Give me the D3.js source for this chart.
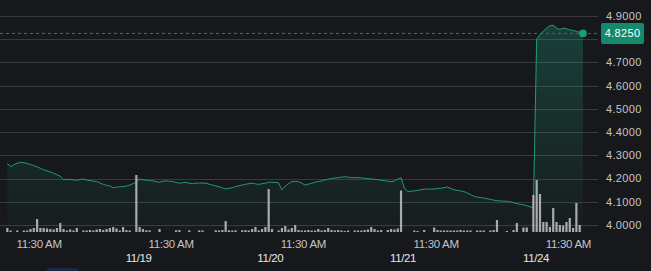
<!DOCTYPE html>
<html>
<head>
<meta charset="utf-8">
<script src="https://cdn.jsdelivr.net/npm/d3@7"></script>
<style>
  html, body { margin: 0; padding: 0; background: #17181c; }
  svg { display: block; }
  text { font-family: "Liberation Sans", Arial, Helvetica, sans-serif; }
</style>
</head>
<body>
<svg id="chart" width="651" height="271"></svg>
<script>
// ---------------- DATA ----------------
// time slots: 40 per trading day; slot 0 = start of first visible day
const priceStartSlot = 1;
const prices = [
  4.266, 4.251, 4.260, 4.266, 4.270, 4.268, 4.265, 4.260, 4.256, 4.250,
  4.244, 4.238, 4.233, 4.228, 4.223, 4.216, 4.210, 4.195, 4.196, 4.197,
  4.194, 4.193, 4.196, 4.198, 4.194, 4.191, 4.189, 4.187, 4.181, 4.175,
  4.171, 4.168, 4.160, 4.163, 4.165, 4.165, 4.168, 4.172, 4.178, 4.186,
  4.198, 4.195, 4.193, 4.191, 4.190, 4.187, 4.184, 4.188, 4.190, 4.188,
  4.187, 4.183, 4.180, 4.182, 4.184, 4.180, 4.178, 4.181, 4.180, 4.181,
  4.180, 4.176, 4.172, 4.168, 4.165, 4.160, 4.155, 4.158, 4.161, 4.165,
  4.169, 4.172, 4.175, 4.178, 4.180, 4.177, 4.175, 4.178, 4.180, 4.184,
  4.184, 4.184, 4.181, 4.151, 4.168, 4.178, 4.187, 4.187, 4.187, 4.180,
  4.172, 4.176, 4.180, 4.184, 4.187, 4.190, 4.194, 4.197, 4.201, 4.202,
  4.204, 4.206, 4.208, 4.206, 4.204, 4.204, 4.204, 4.203, 4.201, 4.200,
  4.198, 4.197, 4.195, 4.193, 4.191, 4.189, 4.186, 4.190, 4.198, 4.204,
  4.158, 4.145, 4.145, 4.147, 4.149, 4.152, 4.154, 4.155, 4.155, 4.155,
  4.157, 4.158, 4.161, 4.164, 4.157, 4.152, 4.149, 4.147, 4.144, 4.138,
  4.131, 4.124, 4.120, 4.118, 4.116, 4.113, 4.110, 4.107, 4.105, 4.103,
  4.103, 4.102, 4.100, 4.096, 4.092, 4.089, 4.087, 4.083, 4.079, 4.071,
  4.800, 4.820, 4.835, 4.848, 4.858, 4.860, 4.848, 4.842, 4.848, 4.845,
  4.840, 4.838, 4.834, 4.830, 4.825
];
const volumeStartSlot = 1;
const volumes = [
  4, 1.5, 0, 1.5, 0, 1.5, 1.5, 3, 4, 13,
  4, 4, 3.5, 3, 2.5, 4, 9, 3, 1.5, 2.5,
  1.5, 4, 0, 1.5, 1.5, 2, 1.5, 2.5, 3, 2,
  3, 4, 5, 3.5, 1.5, 5, 2, 1.5, 0, 57,
  5, 3, 1.7, 1.7, 0, 0, 3, 0, 0, 0,
  0, 1.7, 2, 0, 0, 1.7, 0, 0, 1.7, 1.5,
  0, 0, 0, 1.7, 1.5, 2, 11, 1.7, 1.5, 1.7,
  0, 1.7, 2, 1.5, 3, 5, 1.5, 3, 5, 43,
  3, 0, 1.5, 4, 6, 2.5, 4, 7, 2, 1.5,
  1.5, 2, 1.5, 1.5, 3, 1.5, 2, 4, 2, 1.5,
  2, 1.5, 1, 1.5, 0, 1.5, 1.5, 1.5, 2, 2.5,
  5, 3, 1.5, 2, 0, 2, 3, 2.5, 3.5, 41.5,
  0, 0, 0, 1.5, 1, 0, 2, 0, 0, 4.5,
  2, 1.5, 1.5, 1.5, 1.5, 1.5, 1.5, 2, 1.5, 1.5,
  1.5, 0, 1.5, 1.5, 1.5, 0, 1.5, 2, 12, 0,
  0, 1, 0, 2, 9, 0, 4.5, 4.5, 0, 37,
  52, 38, 10, 10, 5, 24, 10, 7, 6.5, 10,
  14, 4, 29, 7
];
const priceTicks = [4.0, 4.1, 4.2, 4.3, 4.4, 4.5, 4.6, 4.7, 4.8, 4.9];
const timeTickSlots = [10.6, 50.5, 90.5, 130.6, 170.6];
const timeTickLabels = ["11:30 AM", "11:30 AM", "11:30 AM", "11:30 AM", "11:30 AM"];
const dateTickSlots = [40.7, 80.5, 120.6, 160.8];
const dateTickLabels = ["11/19", "11/20", "11/21", "11/24"];
const lastPrice = 4.825;

// ---------------- CHART ----------------
const svg = d3.select("#chart");
const plotRight = 598;

const x = d3.scaleLinear().domain([0, 175]).range([4, 583]);
const y = d3.scaleLinear().domain([4.0, 4.9]).range([225, 16]);
const yVol = d3.scaleLinear().domain([0, 57]).range([232, 175]);

const priceData = prices.map((v, k) => ({ s: priceStartSlot + k, v }));
const volData = volumes.map((v, k) => ({ s: volumeStartSlot + k, v }));

const defs = svg.append("defs");
const grad = defs.append("linearGradient")
  .attr("id", "areaGrad").attr("gradientUnits", "userSpaceOnUse")
  .attr("x1", 0).attr("y1", 16).attr("x2", 0).attr("y2", 232);
grad.append("stop").attr("offset", 0).attr("stop-color", "#1db98f").attr("stop-opacity", 0.26);
grad.append("stop").attr("offset", 1).attr("stop-color", "#1db98f").attr("stop-opacity", 0.02);

// grid
svg.append("g").selectAll("line").data(priceTicks).join("line")
  .attr("x1", 0).attr("x2", plotRight)
  .attr("y1", d => Math.round(y(d)) + 0.5).attr("y2", d => Math.round(y(d)) + 0.5)
  .attr("stroke", "#393a3f").attr("stroke-width", 1);

// area
const area = d3.area().x(d => x(d.s)).y0(232).y1(d => y(d.v));
svg.append("path").datum(priceData).attr("d", area).attr("fill", "url(#areaGrad)");

// line
const line = d3.line().x(d => x(d.s)).y(d => y(d.v));
svg.append("path").datum(priceData).attr("d", line)
  .attr("fill", "none").attr("stroke", "#1f9a79").attr("stroke-width", 1)
  .attr("stroke-linejoin", "round");

// volume bars
svg.append("g").selectAll("rect").data(volData.filter(d => d.v > 0)).join("rect")
  .attr("x", d => x(d.s) - 1.1).attr("width", 2.2)
  .attr("y", d => yVol(d.v)).attr("height", d => yVol(0) - yVol(d.v))
  .attr("fill", "#b9b9bc").attr("fill-opacity", 0.9);

// last price dashed line
svg.append("line")
  .attr("x1", 0).attr("x2", plotRight)
  .attr("y1", y(lastPrice)).attr("y2", y(lastPrice))
  .attr("stroke", "#2b7a65").attr("stroke-width", 1).attr("stroke-dasharray", "3,3");

// end dot
const lastPt = priceData[priceData.length - 1];
svg.append("circle").attr("cx", x(lastPt.s)).attr("cy", y(lastPt.v)).attr("r", 3.8)
  .attr("fill", "#1c9c7a");

// right axis labels
const tagY = y(lastPrice);
svg.append("g").selectAll("text")
  .data(priceTicks.filter(t => Math.abs(y(t) - tagY) > 12)).join("text")
  .attr("x", 606).attr("y", d => y(d)).attr("dy", "0.35em")
  .attr("font-size", 11).attr("letter-spacing", 0.35).attr("fill", "#c4c4c7")
  .text(d => d3.format(".4f")(d));

// last price tag
svg.append("rect").attr("x", 601).attr("y", tagY - 10.5).attr("width", 43).attr("height", 21)
  .attr("rx", 2).attr("fill", "#138a6c");
svg.append("text").attr("x", 622.5).attr("y", tagY).attr("dy", "0.35em")
  .attr("text-anchor", "middle").attr("font-size", 11).attr("letter-spacing", 0.35)
  .attr("fill", "#ffffff").text(d3.format(".4f")(lastPrice));

// x axis: times
svg.append("g").selectAll("text").data(timeTickSlots).join("text")
  .attr("x", d => x(d)).attr("y", 247.5).attr("text-anchor", "middle")
  .attr("font-size", 11.5).attr("letter-spacing", -0.3).attr("fill", "#c4c4c7")
  .text((d, k) => timeTickLabels[k]);

// x axis: dates
svg.append("g").selectAll("text").data(dateTickSlots).join("text")
  .attr("x", d => x(d)).attr("y", 262).attr("text-anchor", "middle")
  .attr("font-size", 11.5).attr("letter-spacing", -0.4).attr("fill", "#e6e6e8")
  .text((d, k) => dateTickLabels[k]);

// small scrollbar marker at bottom-left
svg.append("rect").attr("x", 47).attr("y", 268).attr("width", 31).attr("height", 3)
  .attr("fill", "#1b2640");
</script>
</body>
</html>
